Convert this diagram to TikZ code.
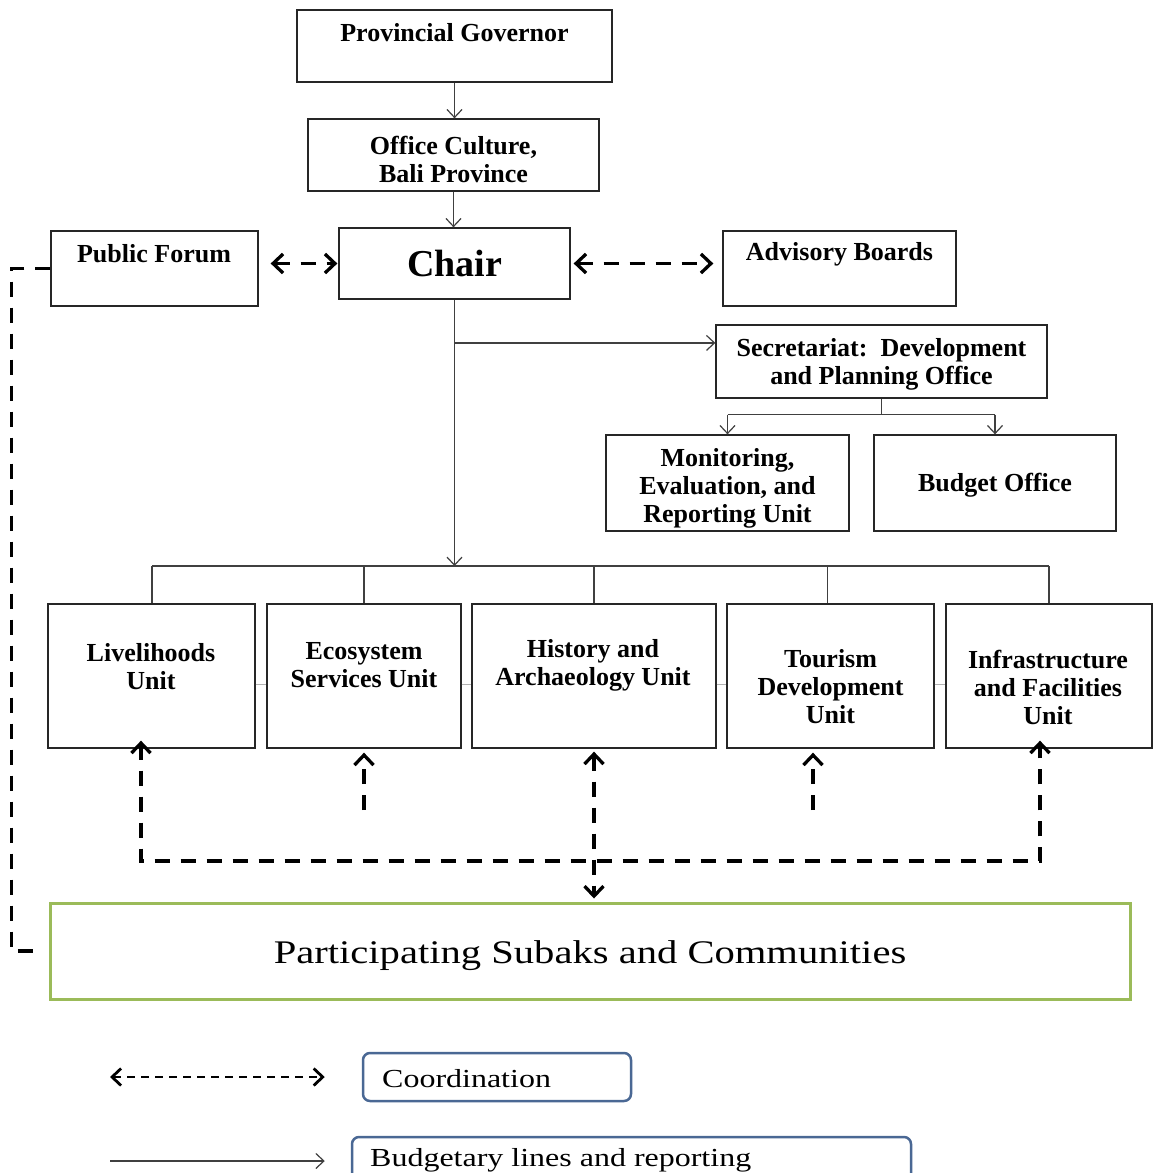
\documentclass[tikz,border=0pt]{standalone}
\usepackage{fontspec}
\setmainfont{Liberation Serif}
\newfontfamily\widefont[FakeStretch=1.23]{Liberation Serif}
\usetikzlibrary{arrows.meta,calc}
\definecolor{partgreen}{HTML}{9BBB59}
\definecolor{legblue}{HTML}{4A6894}
\definecolor{boxline}{HTML}{262626}
\definecolor{conline}{HTML}{404040}
\begin{document}
\begin{tikzpicture}[x=1pt,y=-1pt,
  wh/.style 2 args={minimum width=#1pt, minimum height=#2pt},
  box/.style={draw=boxline, line width=1.3pt, inner sep=0pt},
  bt/.style={font=\bfseries\fontsize{26}{28}\selectfont, align=center, inner sep=0pt},
  legtext/.style={font=\widefont\fontsize{26}{28}\selectfont, inner sep=0pt, anchor=west},
  ln/.style={draw=conline, line width=1.2pt},
  bl/.style={ln, -{Straight Barb[length=8pt,width=15pt,line width=1.2pt]}},
  dsh/.style={line width=3.3pt, dash pattern=on 15pt off 11pt},
  chev/.tip={Straight Barb[length=10pt,width=19pt,line width=3.3pt]},
  lchev/.tip={Straight Barb[length=9pt,width=17pt,line width=2.8pt]},
  co/.style={dsh, chev-chev},
  cou/.style={dsh, -chev},
  legco/.style={line width=2.6pt, dash pattern=on 8pt off 6pt, lchev-lchev}
]
\fill[white] (0,0) rectangle (1155,1173);
\useasboundingbox (0,0) rectangle (1155,1173);
\clip (0,0) rectangle (1155,1173);

% top boxes
\node[box, wh={315}{72}] (gov) at (454.5,46) {};
\node[bt] (govt) at (454.5,33) {Provincial Governor};
\node[box, wh={291}{72}] (office) at (453.5,155) {};
\node[bt] (officet) at (453.5,159) {Office Culture,\\Bali Province};
\node[box, wh={231}{71}, font=\bfseries\fontsize{38}{40}\selectfont] (chair) at (454.5,263.5) {Chair};
\node[box, wh={207}{75}] (pf) at (154.5,268.5) {};
\node[bt] (pft) at (154,254) {Public Forum};
\node[box, wh={233}{75}] (adv) at (839.5,268.5) {};
\node[bt] (advt) at (839.5,254) {Advisory Boards};
\node[box, wh={331}{73}] (sec) at (881.5,361.5) {};
\node[bt] (sect) at (881.5,364) {Secretariat:\ \ Development\\and Planning Office};
\node[box, wh={243}{96}] (mon) at (727.5,483) {};
\node[bt] (mont) at (727.5,488) {Monitoring,\\Evaluation, and\\Reporting Unit};
\node[box, wh={242}{96}] (bud) at (995,483) {};
\node[bt] (budt) at (995,485) {Budget Office};

% units
\node[box, wh={207}{144}] (liv) at (151.5,676) {};
\node[bt] (livt) at (151,667) {Livelihoods\\Unit};
\node[box, wh={194}{144}] (eco) at (364,676) {};
\node[bt] (ecot) at (364,665) {Ecosystem\\Services Unit};
\node[box, wh={244}{144}] (his) at (594,676) {};
\node[bt] (hist) at (593,665) {History and\\Archaeology Unit};
\node[box, wh={207}{144}] (tou) at (830.5,676) {};
\node[bt] (tout) at (830.5,687) {Tourism\\Development\\Unit};
\node[box, wh={206}{144}] (inf) at (1049,676) {};
\node[bt] (inft) at (1048,687) {Infrastructure\\and Facilities\\Unit};

% participating
\node[draw=partgreen, line width=3pt, wh={1080}{96}] (part) at (590,951) {};
\node[font=\widefont\fontsize{33}{36}\selectfont, inner sep=0pt] (partt) at (590,956) {Participating Subaks and Communities};

% legend
\node[draw=legblue, line width=2.5pt, rounded corners=7pt, wh={268}{48}] (lgc) at (497,1077) {};
\node[legtext] (lgct) at (382,1079) {Coordination};
\node[draw=legblue, line width=2.5pt, rounded corners=7pt, wh={559}{48}] (lgb) at (631.5,1161) {};
\node[legtext] (lgbt) at (370,1160) {Budgetary lines and reporting};
\coordinate (lca) at (110,1077);
\coordinate (lba) at (110,1161);
\draw[legco] (lca) -- (lca -| lgc.west) [shorten >=37pt];
\draw[bl] (lba) -- (lba -| lgb.west) [shorten >=26pt];

% solid connectors
\draw[bl] (gov.south) -- (gov.south |- office.north);
\draw[bl] (office.south) -- (office.south |- chair.north);
\coordinate (busl) at (152,566);
\coordinate (busr) at (1049,566);
\draw[bl] (chair.south) -- (chair.south |- busl);
\draw[ln] (busl) -- (busr);
\draw[ln] (busl) -- (busl |- liv.north);
\draw[ln] (eco.north |- busl) -- (eco.north);
\draw[ln] (his.north |- busl) -- (his.north);
\draw[ln] ($(tou.north |- busl)+(-3,0)$) -- ($(tou.north)+(-3,0)$);
\draw[ln] (busr) -- (busr |- inf.north);
\coordinate (secin) at ($(sec.north west)!0.25!(sec.south west)$);
\draw[bl] (chair.south |- secin) -- (secin);
\draw[ln] (sec.south) -- ++(0,16) coordinate (split);
\draw[ln] (mon.north |- split) -- (bud.north |- split);
\draw[bl] (mon.north |- split) -- (mon.north);
\draw[bl] (bud.north |- split) -- (bud.north);

% small links between units
\draw[gray!60, line width=1pt] ($(liv.east)+(0,8)$) -- ($(eco.west)+(0,8)$);
\draw[gray!60, line width=1pt] ($(eco.east)+(0,8)$) -- ($(his.west)+(0,8)$);
\draw[gray!60, line width=1pt] ($(his.east)+(0,8)$) -- ($(tou.west)+(0,8)$);
\draw[gray!60, line width=1pt] ($(tou.east)+(0,8)$) -- ($(inf.west)+(0,8)$);

% coordination (dashed)
\draw[co] (pf.east |- chair.west) -- (chair.west) [shorten <=12pt, shorten >=1pt];
\draw[co] (chair.east) -- (chair.east -| adv.west) [shorten <=3pt, shorten >=9pt];
\draw[dsh] (pf.west) -- ++(-39,0) |- (part.west) [shorten >=10pt];
\coordinate (hl) at (141,861);
\coordinate (hr) at (1040,861);
\draw[co] (hl |- liv.south) -- (hl) -- (hr) -- (hr |- inf.south) [shorten <=-8pt, shorten >=-8pt];
\coordinate (ecoe) at (364,810);
\draw[cou] (ecoe) -- (ecoe |- eco.south) [shorten >=4pt];
\coordinate (toue) at (813,810);
\draw[cou] (toue) -- (toue |- tou.south) [shorten >=4pt];
\draw[co] (his.south) -- (his.south |- part.north) [shorten <=3pt, shorten >=3pt];
\end{tikzpicture}
\end{document}
